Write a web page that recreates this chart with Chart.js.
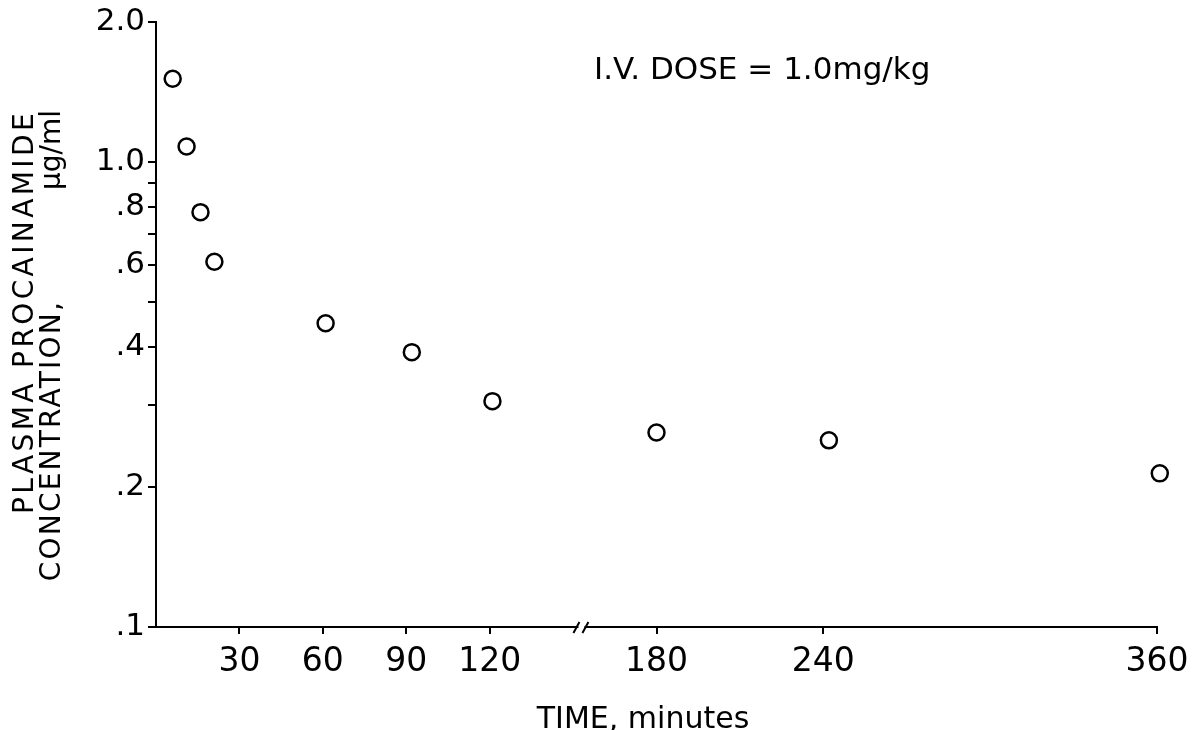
<!DOCTYPE html>
<html>
<head>
<meta charset="utf-8">
<script src="https://cdn.jsdelivr.net/npm/chart.js@4.4.0/dist/chart.umd.min.js"></script>
<style>
html, body { margin: 0; padding: 0; background: #fff; }
canvas { display: block; }
</style>
</head>
<body>
<canvas id="procainamide_Chart" width="1203" height="730"></canvas>
<script>
// time after the i.v. dose (minutes)
const times = [6, 11, 16, 21, 61, 92, 121, 180, 242, 361];
// plasma procainamide concentration (ug/ml)
const conc = [1.51, 1.08, 0.78, 0.61, 0.45, 0.39, 0.306, 0.262, 0.252, 0.214];

const xTicks = [30, 60, 90, 120, 180, 240, 360];
const xTickLabels = ['30', '60', '90', '120', '180', '240', '360'];
const yTicks = [0.1, 0.2, 0.3, 0.4, 0.5, 0.6, 0.7, 0.8, 0.9, 1.0, 2.0];
const yTickLabels = ['.1', '.2', '', '.4', '', '.6', '', '.8', '', '1.0', '2.0'];
const yTitle = ['PLASMA PROCAINAMIDE', 'CONCENTRATION,', '\u03BCg/ml'];
const xTitle = 'TIME, minutes';
const doseNote = 'I.V. DOSE = 1.0mg/kg';
const xBreak = 153; // where the axis break "//" sits

const FONT = "'DejaVu Sans', sans-serif";

// vertical text, ending (top) at y
function upText(ctx, text, x, y) {
	ctx.save();
	ctx.translate(x, y);
	ctx.rotate(-Math.PI / 2);
	ctx.textAlign = 'right';
	ctx.fillText(text, 0, 0);
	ctx.restore();
}

// texts and axis break drawn on top of the chart
const extras = {
	id: 'extras',
	afterDraw(chart) {
		const ctx = chart.ctx;
		const area = chart.chartArea;
		const x = chart.scales.x;

		ctx.save();
		ctx.fillStyle = '#000';
		ctx.strokeStyle = '#000';
		ctx.textBaseline = 'alphabetic';

		// dose note
		ctx.font = '31px ' + FONT;
		ctx.textAlign = 'left';
		ctx.fillText(doseNote, 594, 79);

		// x title
		ctx.font = '30px ' + FONT;
		ctx.textAlign = 'center';
		ctx.fillText(xTitle, 643, 728);

		// y title
		ctx.font = '28px ' + FONT;
		ctx.letterSpacing = '3.4px';
		upText(ctx, yTitle[0], 33, 110);
		ctx.letterSpacing = '2.2px';
		upText(ctx, yTitle[1], 60, 300);
		ctx.letterSpacing = '0px';
		upText(ctx, yTitle[2], 60, 110);

		// axis break
		const px = x.getPixelForValue(xBreak);
		const py = area.bottom;
		ctx.fillStyle = '#fff';
		ctx.fillRect(px - 3, py - 3, 6, 6);
		ctx.lineWidth = 2;
		ctx.beginPath();
		ctx.moveTo(px - 8, py + 6); ctx.lineTo(px - 2, py - 5);
		ctx.moveTo(px + 1, py + 6); ctx.lineTo(px + 7, py - 5);
		ctx.stroke();
		ctx.restore();
	}
};

var context = document.getElementById('procainamide_Chart').getContext('2d');
var procainamide_Chart = new Chart(context, {
	type: 'scatter',
	data: {
		datasets: [{
			data: times.map(function(t, i) { return { x: t, y: conc[i] }; }),
			pointStyle: 'circle',
			pointRadius: 8,
			pointHoverRadius: 8,
			borderWidth: 2.5,
			borderColor: '#000',
			backgroundColor: '#fff',
			clip: false
		}]
	},
	options: {
		responsive: false,
		animation: false,
		layout: { padding: { left: 0, top: 22, right: 46, bottom: 0 } },
		plugins: {
			legend: { display: false },
			tooltip: { enabled: false }
		},
		scales: {
			x: {
				type: 'linear',
				min: 0,
				max: 360,
				afterBuildTicks: function(s) { s.ticks = xTicks.map(function(v) { return { value: v }; }); },
				afterFit: function(s) { s.height = 103; },
				ticks: {
					callback: function(v, i) { return xTickLabels[i]; },
					font: { family: FONT, size: 33 },
					color: '#000',
					padding: 9,
					maxRotation: 0,
					autoSkip: false
				},
				grid: { drawOnChartArea: false, drawTicks: true, tickLength: 7, color: '#000', lineWidth: 2 },
				border: { color: '#000', width: 2 }
			},
			y: {
				type: 'logarithmic',
				min: 0.1,
				max: 2.0,
				afterBuildTicks: function(s) { s.ticks = yTicks.map(function(v) { return { value: v }; }); },
				afterFit: function(s) { s.width = 156; },
				ticks: {
					callback: function(v, i) { return yTickLabels[i]; },
					font: { family: FONT, size: 31 },
					color: '#000',
					padding: 3,
					autoSkip: false
				},
				grid: { drawOnChartArea: false, drawTicks: true, tickLength: 8, color: '#000', lineWidth: 2 },
				border: { color: '#000', width: 2 }
			}
		}
	},
	plugins: [extras]
});
</script>
</body>
</html>
